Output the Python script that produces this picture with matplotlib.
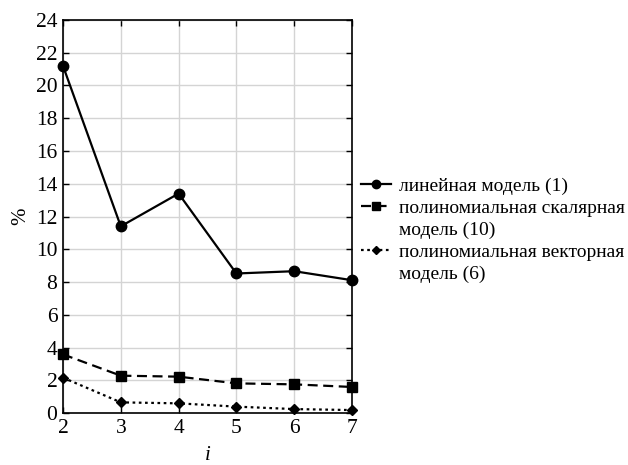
import matplotlib
matplotlib.use("Agg")
import matplotlib.pyplot as plt
from matplotlib.lines import Line2D

plt.rcParams['font.family'] = ['Liberation Serif', 'DejaVu Serif']

i_vals = [2, 3, 4, 5, 6, 7]
linear = [21.2, 11.4, 13.4, 8.52, 8.66, 8.11]
poly_scalar = [3.58, 2.28, 2.22, 1.81, 1.75, 1.59]
poly_vector = [2.16, 0.65, 0.59, 0.39, 0.24, 0.18]

yticks = list(range(0, 25, 2))

fig = plt.figure(figsize=(6.28, 4.65), dpi=100)
ax = fig.add_axes([0.1003, 0.1118, 0.4602, 0.8452])

l1, = ax.plot(i_vals, linear, color='black', lw=1.6, marker='o', ms=7.5, clip_on=False, zorder=3)
l2, = ax.plot(i_vals, poly_scalar, color='black', lw=1.6, ls=(0, (4.5, 2.5)), marker='s', ms=7, clip_on=False, zorder=3)
l3, = ax.plot(i_vals, poly_vector, color='black', lw=1.6, ls=(0, (1.2, 1.6)), marker='D', ms=5.5, clip_on=False, zorder=3)

ax.set_xlim(2, 7)
ax.set_ylim(0, 24)
ax.set_xticks(i_vals)
ax.set_yticks(yticks)
ax.grid(True, color='#d4d4d4', lw=1.0)
ax.set_axisbelow(True)
ax.tick_params(direction='in', top=True, right=True, labelsize=15.5, length=4, width=1, pad=4)
for s in ax.spines.values():
    s.set_linewidth(1.2)
ax.set_xlabel('i', fontsize=15, style='italic', labelpad=6)
ax.set_ylabel('%', fontsize=15, labelpad=4)

blank = Line2D([], [], color='none')
handles = [l1, l2, blank, l3, blank]
labels = ['линейная модель (1)', 'полиномиальная скалярная', 'модель (10)',
          'полиномиальная векторная', 'модель (6)']
fig.legend(handles, labels, loc='upper left', bbox_to_anchor=(0.575, 0.619),
           frameon=False, fontsize=14, handlelength=1.55, handletextpad=0.4,
           labelspacing=0.23, borderpad=0, borderaxespad=0, markerscale=0.8)

fig.savefig('out.png', dpi=100)
